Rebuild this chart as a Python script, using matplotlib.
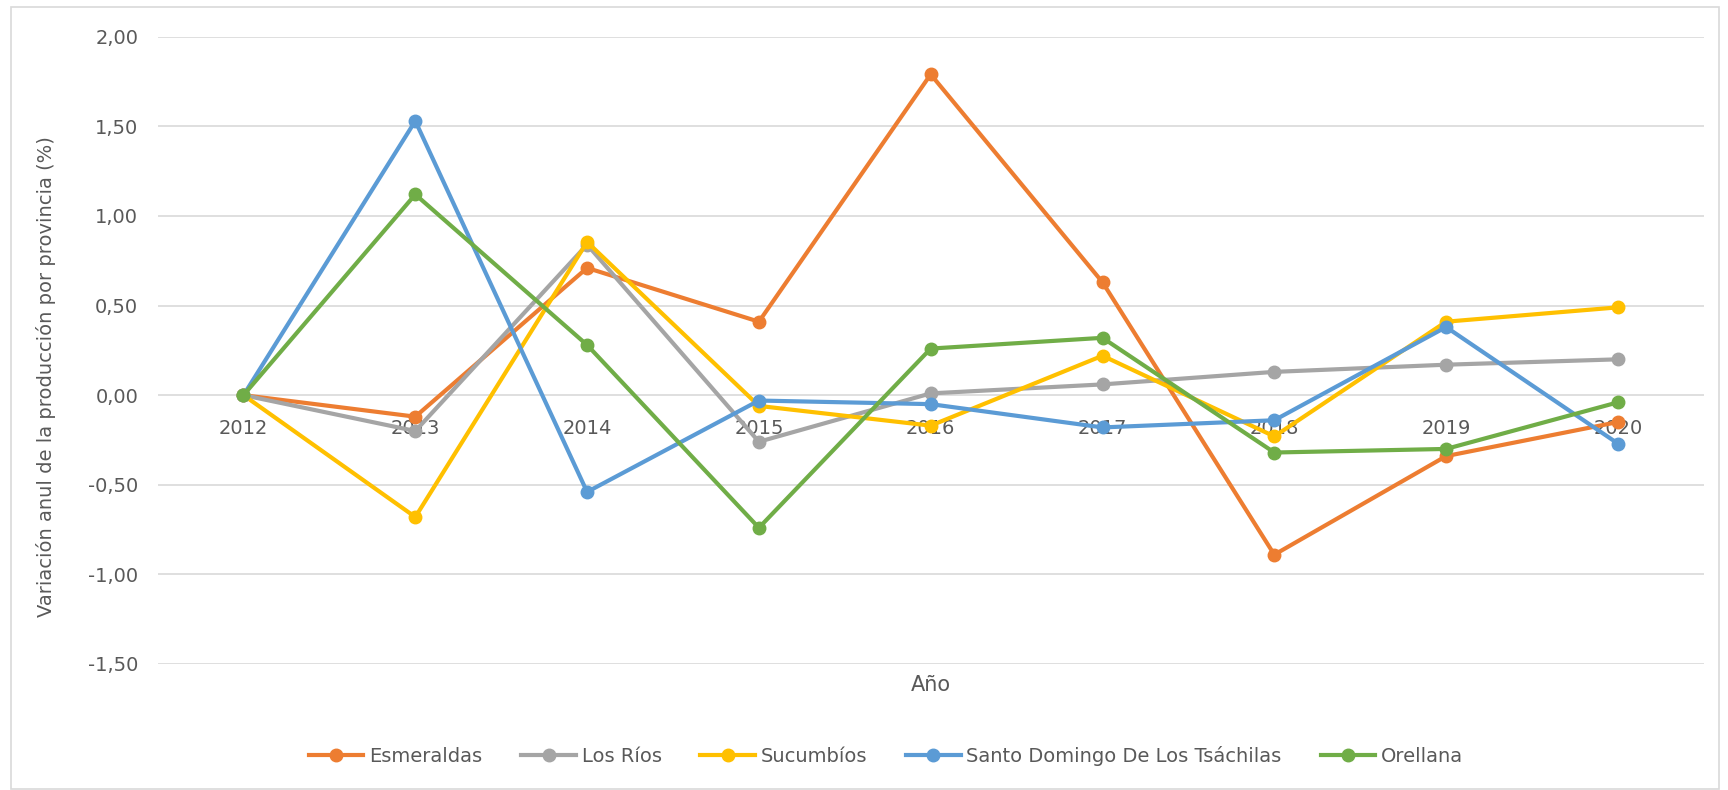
import matplotlib.pyplot as plt
from matplotlib.patches import Rectangle
from matplotlib.ticker import FuncFormatter

years = ['2012', '2013', '2014', '2015', '2016', '2017', '2018', '2019', '2020']

esmeraldas = [0.00, -0.12, 0.71, 0.41, 1.79, 0.63, -0.89, -0.34, -0.15]
los_rios = [0.00, -0.20, 0.84, -0.26, 0.01, 0.06, 0.13, 0.17, 0.20]
sucumbios = [0.00, -0.68, 0.855, -0.06, -0.17, 0.22, -0.23, 0.41, 0.49]
santo_domingo = [0.00, 1.53, -0.54, -0.03, -0.05, -0.18, -0.14, 0.38, -0.27]
orellana = [0.00, 1.12, 0.28, -0.74, 0.26, 0.32, -0.32, -0.30, -0.04]

series = [
    ('Esmeraldas', esmeraldas, '#ED7D31'),
    ('Los Ríos', los_rios, '#A5A5A5'),
    ('Sucumbíos', sucumbios, '#FFC000'),
    ('Santo Domingo De Los Tsáchilas', santo_domingo, '#5B9BD5'),
    ('Orellana', orellana, '#70AD47'),
]

plt.rcParams['font.family'] = ['DejaVu Sans']
text_color = '#595959'

fig = plt.figure(figsize=(17.28, 7.9), dpi=100)
ax = fig.add_axes([0.0912, 0.1595, 0.8948, 0.794])

# chart border
fig.patches.append(Rectangle((11 / 1728, 1 - 789 / 790), 1708 / 1728, 782 / 790,
                             transform=fig.transFigure, fill=False,
                             edgecolor='#D9D9D9', linewidth=1.2))

x = range(len(years))
for name, vals, color in series:
    ax.plot(x, vals, color=color, linewidth=3, marker='o', markersize=9,
            label=name, solid_joinstyle='round')

ax.set_xlim(-0.5, len(years) - 0.5)
ax.set_ylim(-1.5, 2.0)
ax.set_yticks([-1.5, -1.0, -0.5, 0.0, 0.5, 1.0, 1.5, 2.0])
ax.yaxis.set_major_formatter(FuncFormatter(lambda v, p: f'{v:.2f}'.replace('.', ',')))
ax.grid(axis='y', color='#D9D9D9', linewidth=1.2)
ax.set_axisbelow(True)

for s in ax.spines.values():
    s.set_visible(False)
ax.spines['bottom'].set_position(('data', 0))

ax.set_xticks(list(x))
ax.set_xticklabels(years)
ax.tick_params(axis='x', length=0, pad=17, labelsize=14, labelcolor=text_color)
ax.tick_params(axis='y', length=0, pad=14, labelsize=14, labelcolor=text_color)

fig.text(931 / 1728, 1 - 685 / 790, 'Año', ha='center', va='center',
         fontsize=15, color=text_color)
fig.text(46 / 1728, 1 - 377 / 790, 'Variación anul de la producción por provincia (%)',
         ha='center', va='center', rotation=90, fontsize=14, color=text_color)

leg = fig.legend(loc='center', bbox_to_anchor=(886 / 1728, 1 - 756 / 790), ncol=5,
                 frameon=False, fontsize=14, handlelength=2.8, columnspacing=2.0,
                 handletextpad=0.3)
for t in leg.get_texts():
    t.set_color(text_color)

fig.savefig('out.png', dpi=100)
